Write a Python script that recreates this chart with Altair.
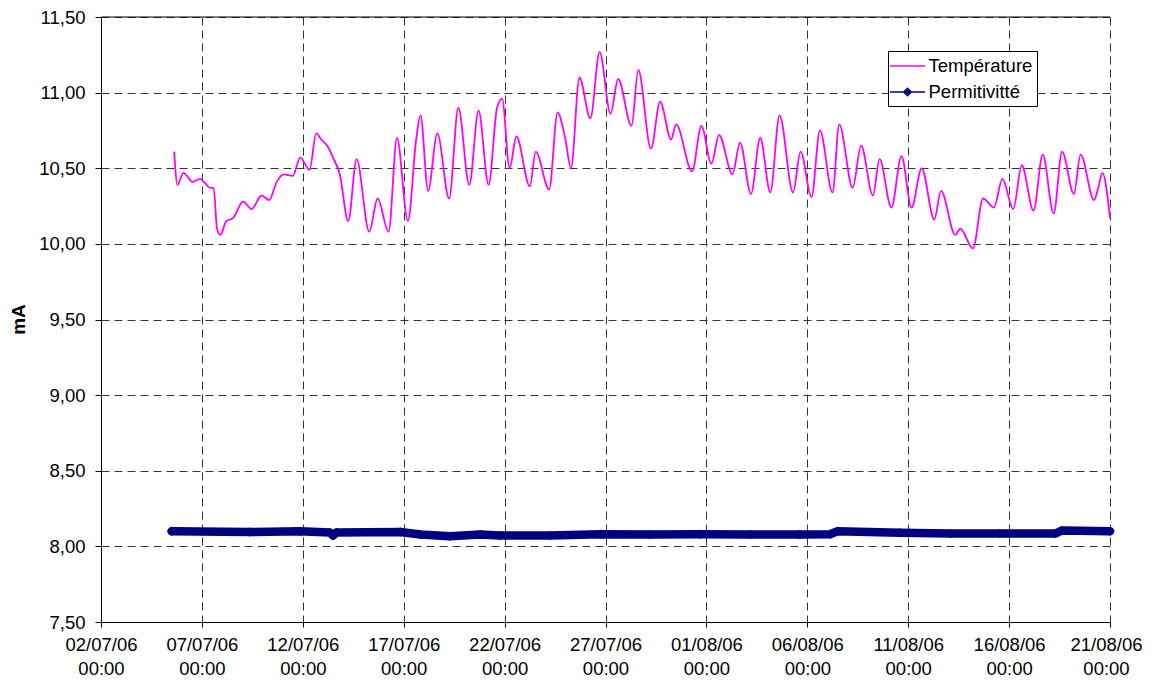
import altair as alt
import pandas as pd

# ---------------- data ----------------
TEMP_TIME = [
    "2006-07-05T15:00", "2006-07-05T19:00", "2006-07-06T02:00", "2006-07-06T13:00", "2006-07-06T22:00",
    "2006-07-07T04:00", "2006-07-07T10:00", "2006-07-07T14:00", "2006-07-07T18:00", "2006-07-07T22:00",
    "2006-07-08T05:00", "2006-07-08T13:00", "2006-07-09T01:00", "2006-07-09T11:00", "2006-07-09T23:00",
    "2006-07-10T08:00", "2006-07-10T17:00", "2006-07-11T01:00", "2006-07-11T12:00", "2006-07-11T21:00",
    "2006-07-12T08:00", "2006-07-12T16:00", "2006-07-12T22:00", "2006-07-13T06:00", "2006-07-13T12:00",
    "2006-07-13T20:00", "2006-07-14T06:00", "2006-07-14T16:00", "2006-07-15T07:00", "2006-07-15T17:00",
    "2006-07-16T06:00", "2006-07-16T16:00", "2006-07-17T05:00", "2006-07-17T15:00", "2006-07-17T20:00",
    "2006-07-18T05:00", "2006-07-18T16:00", "2006-07-19T06:00", "2006-07-19T17:00", "2006-07-20T06:00",
    "2006-07-20T17:00", "2006-07-21T05:00", "2006-07-21T15:00", "2006-07-21T21:00", "2006-07-22T06:00",
    "2006-07-22T14:00", "2006-07-23T06:00", "2006-07-23T13:00", "2006-07-24T05:00", "2006-07-24T15:00",
    "2006-07-25T00:00", "2006-07-25T07:00", "2006-07-25T17:00", "2006-07-26T06:00", "2006-07-26T17:00",
    "2006-07-27T06:00", "2006-07-27T15:00", "2006-07-28T07:00", "2006-07-28T15:00", "2006-07-29T06:00",
    "2006-07-29T17:00", "2006-07-30T06:00", "2006-07-30T12:00", "2006-07-31T07:00", "2006-07-31T18:00",
    "2006-08-01T06:00", "2006-08-01T15:00", "2006-08-02T07:00", "2006-08-02T16:00", "2006-08-03T05:00",
    "2006-08-03T16:00", "2006-08-04T04:00", "2006-08-04T15:00", "2006-08-05T07:00", "2006-08-05T16:00",
    "2006-08-06T05:00", "2006-08-06T15:00", "2006-08-07T06:00", "2006-08-07T14:00", "2006-08-08T06:00",
    "2006-08-08T16:00", "2006-08-09T06:00", "2006-08-09T14:00", "2006-08-10T04:00", "2006-08-10T16:00",
    "2006-08-11T04:00", "2006-08-11T16:00", "2006-08-12T07:00", "2006-08-12T15:00", "2006-08-13T08:00",
    "2006-08-13T14:00", "2006-08-14T05:00", "2006-08-14T17:00", "2006-08-15T06:00", "2006-08-15T16:00",
    "2006-08-16T05:00", "2006-08-16T15:00", "2006-08-17T05:00", "2006-08-17T16:00", "2006-08-18T05:00",
    "2006-08-18T15:00", "2006-08-19T05:00", "2006-08-19T13:00", "2006-08-20T05:00", "2006-08-20T10:00",
    "2006-08-20T15:00", "2006-08-21T00:00",
]
TEMP_VALUE = [
    10.61, 10.39, 10.47, 10.41, 10.43, 10.40, 10.37, 10.37, 10.10, 10.06,
    10.15, 10.17, 10.28, 10.23, 10.32, 10.29, 10.41, 10.46, 10.45, 10.57,
    10.49, 10.73, 10.69, 10.64, 10.57, 10.46, 10.15, 10.56, 10.08, 10.30,
    10.08, 10.70, 10.15, 10.70, 10.85, 10.35, 10.73, 10.30, 10.90, 10.39,
    10.88, 10.39, 10.90, 10.96, 10.50, 10.71, 10.38, 10.61, 10.36, 10.87,
    10.70, 10.50, 11.10, 10.83, 11.27, 10.86, 11.09, 10.78, 11.15, 10.63,
    10.94, 10.69, 10.79, 10.48, 10.78, 10.53, 10.72, 10.46, 10.67, 10.33,
    10.70, 10.34, 10.85, 10.34, 10.61, 10.31, 10.75, 10.34, 10.79, 10.37,
    10.65, 10.32, 10.56, 10.24, 10.58, 10.24, 10.50, 10.16, 10.35, 10.06,
    10.10, 9.97, 10.30, 10.24, 10.43, 10.23, 10.52, 10.22, 10.59, 10.20,
    10.61, 10.33, 10.59, 10.29, 10.37, 10.47, 10.17,
]

PERM_TIME = [
    "2006-07-05T12:00", "2006-07-09T09:00", "2006-07-11T21:00", "2006-07-13T08:00", "2006-07-13T12:00",
    "2006-07-13T16:00", "2006-07-16T20:00", "2006-07-17T20:00", "2006-07-19T07:00", "2006-07-20T19:00",
    "2006-07-21T18:00", "2006-07-24T06:00", "2006-07-26T18:00", "2006-07-29T05:00", "2006-07-31T17:00",
    "2006-08-03T04:00", "2006-08-05T15:00", "2006-08-07T03:00", "2006-08-07T12:00", "2006-08-10T14:00",
    "2006-08-13T02:00", "2006-08-15T13:00", "2006-08-18T07:00", "2006-08-18T15:00", "2006-08-21T00:00",
]
PERM_VALUE = [
    8.100, 8.095, 8.100, 8.092, 8.072, 8.092, 8.095, 8.078, 8.067, 8.078,
    8.072, 8.072, 8.080, 8.078, 8.080, 8.078, 8.078, 8.080, 8.100, 8.090,
    8.085, 8.085, 8.085, 8.105, 8.100,
]

SERIES = ["Température", "Permitivitté"]
COLORS = ["#FF00FF", "#000080"]

Y_TICKS = [7.5, 8.0, 8.5, 9.0, 9.5, 10.0, 10.5, 11.0, 11.5]
X_TICK_DAYS = [(7, 2), (7, 7), (7, 12), (7, 17), (7, 22), (7, 27),
               (8, 1), (8, 6), (8, 11), (8, 16), (8, 21)]

# ---------------- frames ----------------
temp_df = pd.DataFrame({"time": TEMP_TIME, "value": TEMP_VALUE, "series": SERIES[0]})
perm_df = pd.DataFrame({"time": PERM_TIME, "value": PERM_VALUE, "series": SERIES[1]})
top_df = pd.DataFrame({"value": [Y_TICKS[-1]]})

FONT = "Liberation Sans"
FS = 18.5
x_ticks = [alt.DateTime(year=2006, month=m, date=d, hours=0) for m, d in X_TICK_DAYS]

x_enc = alt.X(
    "time:T",
    scale=alt.Scale(domain=[x_ticks[0], x_ticks[-1]], nice=False),
    axis=alt.Axis(
        values=x_ticks,
        title=None,
        labelExpr="[timeFormat(datum.value, '%d/%m/%y'), timeFormat(datum.value, '%H:%M')]",
        labelFont=FONT,
        labelFontSize=FS,
        labelColor="black",
        labelLineHeight=24,
        labelPadding=8,
        labelBaseline="top",
        labelOverlap=False,
        labelFlush=False,
        labelOffset={"expr": "datum.index == 1 ? -4 : 0"},
        tickSize=5,
        grid=True,
        gridDash=[8, 5],
        gridColor="#333333",
        gridWidth=1,
        domainColor="black",
        tickColor="black",
    ),
)
y_enc = alt.Y(
    "value:Q",
    scale=alt.Scale(domain=[Y_TICKS[0], Y_TICKS[-1]], nice=False, zero=False),
    axis=alt.Axis(
        values=Y_TICKS,
        title="mA",
        labelExpr="replace(format(datum.value, '.2f'), '.', ',')",
        labelFont=FONT,
        labelFontSize=FS,
        labelColor="black",
        labelOverlap=False,
        labelFlush=False,
        tickSize=6,
        labelPadding=10,
        grid=True,
        gridDash=[8, 5],
        gridColor="#333333",
        gridWidth=1,
        domainColor="black",
        tickColor="black",
        titleFont=FONT,
        titleColor="black",
        titleFontWeight="bold",
        titleFontSize=19,
        titleAngle=270,
        titleX=-83,
        titleY=302,
        titleAlign="center",
        titleBaseline="middle",
    ),
)

color_enc = alt.Color(
    "series:N",
    scale=alt.Scale(domain=SERIES, range=COLORS),
    legend=alt.Legend(
        title=None,
        orient="none",
        legendX=787,
        legendY=34,
        padding=4,
        strokeColor="black",
        fillColor="white",
        labelFont=FONT,
        labelFontSize=FS,
        labelColor="black",
        labelOffset=10,
        labelExpr="datum.label + '  '",
        symbolSize=400,
        symbolOffset=4.5,
        symbolStrokeWidth=1.5,
        rowPadding=5,
        symbolType={"expr": "datum.value == 'Permitivitté' ? "
                            "'M-1.75,0H1.75M0,-0.38L0.38,0L0,0.38L-0.38,0ZM0,-0.19L0.19,0L0,0.19L-0.19,0Z' "
                            ": 'M-1.75,0H1.75'"},
    ),
)

temp_line = alt.Chart(temp_df).mark_line(strokeWidth=1.8, interpolate="monotone").encode(
    x=x_enc, y=y_enc, color=color_enc
)
perm_line = alt.Chart(perm_df).mark_line(strokeWidth=8.5, strokeJoin="round", strokeCap="round").encode(
    x=x_enc, y=y_enc, color=color_enc
)
perm_pts = alt.Chart(perm_df).mark_point(shape="diamond", filled=True, size=90, opacity=1).encode(
    x=x_enc, y=y_enc, color=alt.value(COLORS[1])
)
top_rule = alt.Chart(top_df).mark_rule(color="black", strokeWidth=1).encode(y="value:Q")

chart = alt.layer(perm_line, perm_pts, temp_line, top_rule).properties(
    width=1009,
    height=605,
    autosize=alt.AutoSizeParams(type="none"),
    padding={"left": 93, "top": 9, "right": 34, "bottom": 55},
    background="white",
).configure_view(stroke=None)

chart.save("out.html", embed_options={"renderer": "svg", "actions": False})
